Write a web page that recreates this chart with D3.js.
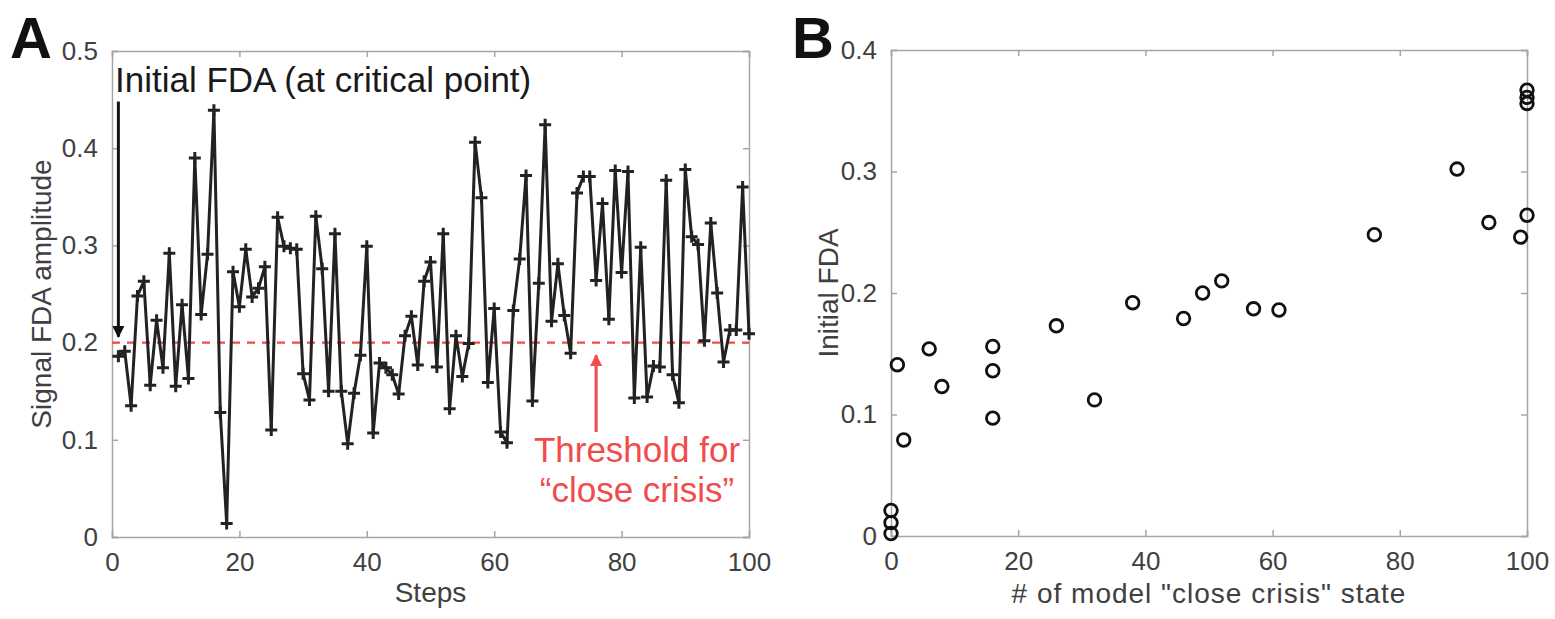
<!DOCTYPE html>
<html>
<head>
<meta charset="utf-8">
<script src="https://cdn.jsdelivr.net/npm/d3@7"></script>
<style>
  body { margin: 0; background: #fff; }
  svg { font-family: "Liberation Sans", Arial, sans-serif; }
</style>
</head>
<body>
<svg id="chart" width="1555" height="619"></svg>
<script>
// ---- data ----
// panel A: signal FDA amplitude per step (steps 1..100)
const fdaValues = [
  0.186, 0.191, 0.135, 0.248, 0.263, 0.156, 0.223, 0.174, 0.292, 0.155,
  0.239, 0.163, 0.390, 0.229, 0.291, 0.439, 0.128, 0.014, 0.273, 0.237,
  0.296, 0.247, 0.256, 0.278, 0.110, 0.329, 0.299, 0.297, 0.296, 0.168,
  0.141, 0.330, 0.276, 0.150, 0.312, 0.150, 0.096, 0.148, 0.187, 0.299,
  0.107, 0.179, 0.174, 0.167, 0.147, 0.207, 0.227, 0.177, 0.263, 0.283,
  0.175, 0.312, 0.132, 0.207, 0.165, 0.199, 0.406, 0.349, 0.159, 0.235,
  0.108, 0.097, 0.233, 0.286, 0.372, 0.140, 0.261, 0.424, 0.222, 0.281,
  0.228, 0.189, 0.354, 0.371, 0.371, 0.264, 0.343, 0.224, 0.377, 0.272,
  0.376, 0.143, 0.298, 0.144, 0.176, 0.175, 0.367, 0.167, 0.138, 0.378,
  0.309, 0.301, 0.202, 0.323, 0.251, 0.180, 0.213, 0.213, 0.360, 0.209
];
const threshold = 0.2;

// panel B: # of "close crisis" states vs initial FDA
const crisisCounts = [0, 0, 0, 1, 2, 6, 8, 16, 16, 16, 26, 32, 38, 46, 49, 52, 57, 61, 76, 89, 94, 99, 100, 100, 100, 100];
const initialFDA   = [0.002, 0.011, 0.021, 0.141, 0.079, 0.154, 0.123, 0.156, 0.136, 0.097, 0.173, 0.112, 0.192,
                      0.179, 0.200, 0.210, 0.187, 0.186, 0.248, 0.302, 0.258, 0.246, 0.264, 0.367, 0.361, 0.356];

const xTicks = [0, 20, 40, 60, 80, 100];
const yTicksA = [0, 0.1, 0.2, 0.3, 0.4, 0.5];
const yTicksB = [0, 0.1, 0.2, 0.3, 0.4];

const svg = d3.select("#chart");
const frameColor = "#a6a6a6";
const textColor = "#404040";
const red = "#f24b4b";

svg.append("defs").call(defs => {
  defs.append("marker")
    .attr("id", "headBlack")
    .attr("viewBox", "0 0 10 10")
    .attr("refX", 9).attr("refY", 5)
    .attr("markerWidth", 4.5).attr("markerHeight", 4)
    .attr("markerUnits", "strokeWidth")
    .attr("orient", "auto")
    .append("path").attr("d", "M0,0L10,5L0,10Z").attr("fill", "#111");
  defs.append("marker")
    .attr("id", "headRed")
    .attr("viewBox", "0 0 10 10")
    .attr("refX", 9).attr("refY", 5)
    .attr("markerWidth", 4.5).attr("markerHeight", 4)
    .attr("markerUnits", "strokeWidth")
    .attr("orient", "auto")
    .append("path").attr("d", "M0,0L10,5L0,10Z").attr("fill", red);
});

// draws a matlab-like boxed axes with inward ticks on all sides
function boxAxes(g, x, y, yTicks, yFmt) {
  const [x0, x1] = x.range();
  const [y0, y1] = y.range();

  const bottom = g.append("g").attr("transform", `translate(0,${y0})`)
    .call(d3.axisBottom(x).tickValues(xTicks).tickSize(-6).tickPadding(16).tickFormat(d3.format("d")));
  const top = g.append("g").attr("transform", `translate(0,${y1})`)
    .call(d3.axisTop(x).tickValues(xTicks).tickSize(-6).tickFormat(""));
  const left = g.append("g").attr("transform", `translate(${x0},0)`)
    .call(d3.axisLeft(y).tickValues(yTicks).tickSize(-6).tickPadding(14).tickFormat(yFmt));
  const right = g.append("g").attr("transform", `translate(${x1},0)`)
    .call(d3.axisRight(y).tickValues(yTicks).tickSize(-6).tickFormat(""));

  [bottom, top, left, right].forEach(a => {
    a.select(".domain").attr("stroke", frameColor).attr("stroke-width", 1.5);
    a.selectAll(".tick line").attr("stroke", frameColor).attr("stroke-width", 1.5);
    a.selectAll(".tick text")
      .attr("fill", textColor)
      .attr("font-size", 26)
      .attr("font-family", "Liberation Sans, Arial, sans-serif");
  });
}

const yFmt = d => d === 0 ? "0" : d3.format(".1f")(d);

// ---------------- panel A ----------------
const xA = d3.scaleLinear().domain([0, 100]).range([112, 749]);
const yA = d3.scaleLinear().domain([0, 0.5]).range([537, 51]);
const gA = svg.append("g");

boxAxes(gA, xA, yA, yTicksA, yFmt);

// threshold line
gA.append("line")
  .attr("x1", xA(0)).attr("x2", xA(100))
  .attr("y1", yA(threshold)).attr("y2", yA(threshold))
  .attr("stroke", red).attr("stroke-width", 2.2)
  .attr("stroke-dasharray", "8,7");

const lineA = d3.line()
  .x((d, i) => xA(i + 1))
  .y(d => yA(d));

gA.append("path")
  .attr("d", lineA(fdaValues))
  .attr("fill", "none")
  .attr("stroke", "#222")
  .attr("stroke-width", 3)
  .attr("stroke-linejoin", "miter");

gA.selectAll(".plus")
  .data(fdaValues)
  .join("path")
  .attr("class", "plus")
  .attr("transform", (d, i) => `translate(${xA(i + 1)},${yA(d)})`)
  .attr("d", "M-6,0H6M0,-6V6")
  .attr("stroke", "#222")
  .attr("stroke-width", 3);

// annotation: initial FDA
gA.append("text")
  .attr("x", 115).attr("y", 92)
  .attr("font-size", 35)
  .attr("fill", "#1a1a1a")
  .text("Initial FDA (at critical point)");

gA.append("line")
  .attr("x1", xA(1)).attr("x2", xA(1))
  .attr("y1", yA(0.448)).attr("y2", yA(0.206))
  .attr("stroke", "#111").attr("stroke-width", 3)
  .attr("marker-end", "url(#headBlack)");

// annotation: threshold
gA.append("line")
  .attr("x1", xA(76)).attr("x2", xA(76))
  .attr("y1", yA(0.108)).attr("y2", yA(0.187))
  .attr("stroke", red).attr("stroke-width", 3)
  .attr("marker-end", "url(#headRed)");

gA.append("text")
  .attr("x", 637).attr("y", 462)
  .attr("text-anchor", "middle")
  .attr("font-size", 35)
  .attr("fill", red)
  .text("Threshold for");
gA.append("text")
  .attr("x", 637).attr("y", 502)
  .attr("text-anchor", "middle")
  .attr("font-size", 35)
  .attr("fill", red)
  .text("\u201cclose crisis\u201d");

// axis labels
gA.append("text")
  .attr("x", (xA(0) + xA(100)) / 2).attr("y", 602)
  .attr("text-anchor", "middle")
  .attr("font-size", 28)
  .attr("fill", textColor)
  .text("Steps");
gA.append("text")
  .attr("transform", `translate(51,${(yA(0) + yA(0.5)) / 2}) rotate(-90)`)
  .attr("text-anchor", "middle")
  .attr("font-size", 28)
  .attr("fill", textColor)
  .text("Signal FDA amplitude");

svg.append("text")
  .attr("x", 10).attr("y", 58)
  .attr("font-size", 58).attr("font-weight", "bold")
  .attr("fill", "#111")
  .text("A");

// ---------------- panel B ----------------
const xB = d3.scaleLinear().domain([0, 100]).range([891, 1527]);
const yB = d3.scaleLinear().domain([0, 0.4]).range([536, 50]);
const gB = svg.append("g");

boxAxes(gB, xB, yB, yTicksB, yFmt);

gB.selectAll("circle")
  .data(crisisCounts)
  .join("circle")
  .attr("cx", d => xB(d))
  .attr("cy", (d, i) => yB(initialFDA[i]))
  .attr("r", 6.3)
  .attr("fill", "none")
  .attr("stroke", "#111")
  .attr("stroke-width", 2.8);

gB.append("text")
  .attr("x", (xB(0) + xB(100)) / 2).attr("y", 603)
  .attr("text-anchor", "middle")
  .attr("font-size", 28)
  .attr("letter-spacing", 1)
  .attr("fill", textColor)
  .text("# of model \"close crisis\" state");
gB.append("text")
  .attr("transform", `translate(838,${(yB(0) + yB(0.4)) / 2}) rotate(-90)`)
  .attr("text-anchor", "middle")
  .attr("font-size", 28)
  .attr("fill", textColor)
  .text("Initial FDA");

svg.append("text")
  .attr("x", 792).attr("y", 58)
  .attr("font-size", 58).attr("font-weight", "bold")
  .attr("fill", "#111")
  .text("B");
</script>
</body>
</html>
